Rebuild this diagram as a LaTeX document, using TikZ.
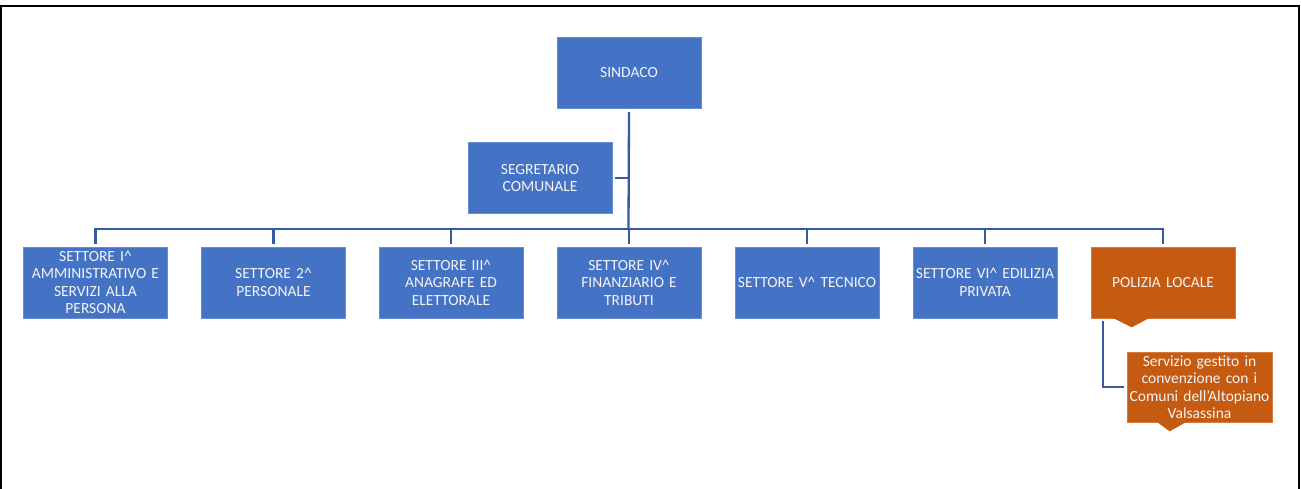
\documentclass[tikz,border=0pt]{standalone}
\usepackage{fontspec}
\setmainfont{Carlito}
\definecolor{boxblue}{HTML}{4472C4}
\definecolor{boxorange}{HTML}{C55A11}
\definecolor{linkblue}{HTML}{3659A0}
\definecolor{txt}{HTML}{F4F4F4}
\begin{document}
\begin{tikzpicture}[x=1pt,y=-1pt,
  unit/.style={fill=boxblue, draw=boxblue!80!white, line width=0.6pt, minimum width=144pt, minimum height=71pt,
    inner sep=0pt, text width=143pt, align=center, text=txt, font=\fontsize{15.5}{17.5}\selectfont},
  orangeunit/.style={unit, fill=boxorange, draw=boxorange!80!white},
  link/.style={draw=linkblue, line width=2.3pt},
  frame/.style={draw=black, line width=2.2pt}]
\useasboundingbox (0,0) rectangle (1301,489);
\fill[white] (0,0) rectangle (1301,489);
% frame
\draw[frame] (1,489) -- (1,6) -- (1299,6) -- (1299,489);
% nodes
\node[unit] (sindaco) at (629,73) {SINDACO};
\node[unit] (segr) at (540,178) {SEGRETARIO\\COMUNALE};
\node[unit] (s1) at (95.5,282.5) {SETTORE I\^{}\\AMMINISTRATIVO E\\SERVIZI ALLA\\PERSONA};
\node[unit] (s2) at (273.5,282.5) {SETTORE 2\^{}\\PERSONALE};
\node[unit] (s3) at (451,282.5) {SETTORE III\^{}\\ANAGRAFE ED\\ELETTORALE};
\node[unit] (s4) at (629,282.5) {SETTORE IV\^{}\\FINANZIARIO E\\TRIBUTI};
\node[unit] (s5) at (807,282.5) {SETTORE V\^{} TECNICO};
\node[unit] (s6) at (985,282.5) {SETTORE VI\^{} EDILIZIA\\PRIVATA};
\node[orangeunit] (pl) at (1163,282.5) {POLIZIA LOCALE};
\node[orangeunit, minimum width=145pt, minimum height=70pt] (svc) at (1199.5,387) {Servizio gestito in\\convenzione con i\\Comuni dell'Altopiano\\Valsassina};
% callout pointers
\fill[boxorange] ([xshift=22pt,yshift=0.5pt]pl.south west) -- ([xshift=41pt,yshift=-9pt]pl.south west) -- ([xshift=59pt,yshift=0.5pt]pl.south west) -- cycle;
\fill[boxorange] ([xshift=30pt,yshift=0.5pt]svc.south west) -- ([xshift=43pt,yshift=-9pt]svc.south west) -- ([xshift=60pt,yshift=0.5pt]svc.south west) -- cycle;
% connectors
\coordinate (bus) at (628.5,229);
\draw[link] ([yshift=-3pt]sindaco.south) -- (bus);
\draw[link] ([xshift=3pt]segr.east) -- (segr.east -| bus);
\foreach \n in {s1,s2,s3,s4,s5,s6,pl}{
  \draw[link] ([yshift=3pt]\n.north) |- (bus);
}
\draw[link] ([xshift=12pt,yshift=-3pt]pl.south west) |- ([xshift=-3pt]svc.west);
\end{tikzpicture}
\end{document}
